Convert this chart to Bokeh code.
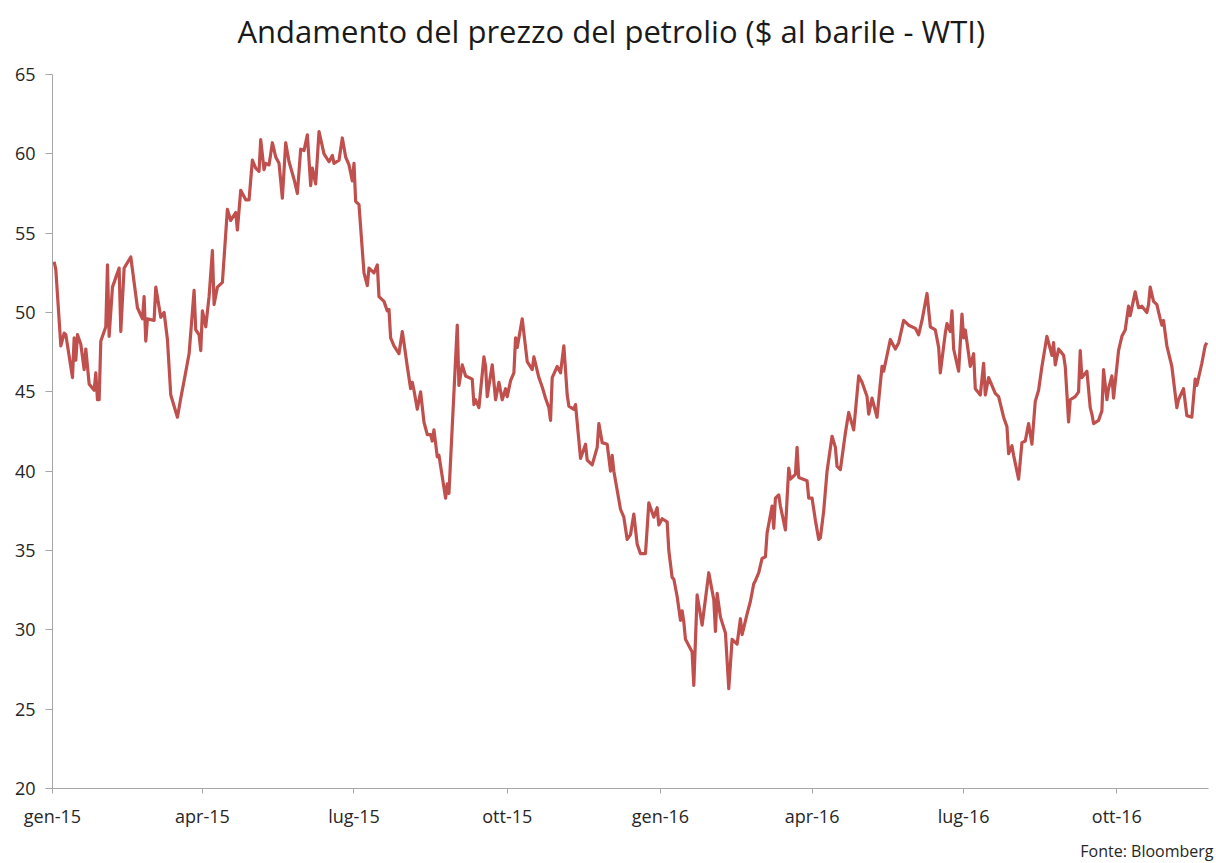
import pandas as pd
from bokeh.plotting import figure
from bokeh.models import Range1d, FixedTicker, CustomJSTickFormatter, Title, ColumnDataSource
from bokeh.embed import file_html
from bokeh.resources import INLINE

# --- data ---
inizio = "2015-01-01"
fine_asse = "2016-11-25"

giorni = [1, 2, 5, 7, 8, 12, 13, 14, 15, 17, 19, 20, 22, 25, 26, 27, 28, 29, 32, 33, 34, 36, 40, 41, 43, 47,
          51, 54, 55, 56, 57, 61, 62, 65, 67, 69, 71, 75, 77, 79, 82, 85, 86, 88, 89, 90, 92, 94, 96, 97, 99,
          102, 105, 107, 110, 111, 113, 116, 118, 120, 122, 124, 125, 127, 128, 130, 132, 134, 136, 138, 140,
          142, 145, 147, 149, 151, 153, 155, 156, 158, 160, 163, 166, 168, 169, 172, 174, 176, 178, 180, 181,
          182, 184, 187, 189, 190, 193, 195, 196, 199, 201, 202, 203, 205, 208, 210, 211, 213, 215, 216, 217,
          219, 221, 223, 225, 227, 228, 229, 231, 232, 236, 237, 238, 243, 244, 246, 248, 252, 253, 254, 256,
          259, 260, 261, 264, 266, 268, 270, 272, 273, 275, 277, 278, 279, 282, 285, 288, 289, 292, 294, 296,
          298, 299, 300, 303, 305, 307, 309, 310, 313, 314, 317, 320, 321, 324, 327, 328, 330, 333, 335, 336,
          337, 341, 343, 345, 347, 349, 351, 353, 356, 358, 361, 363, 364, 366, 369, 370, 372, 373, 375, 377,
          378, 379, 380, 384, 385, 387, 390, 394, 397, 398, 399, 401, 404, 406, 408, 411, 413, 414, 417, 419,
          421, 422, 424, 426, 428, 429, 432, 433, 434, 436, 437, 440, 442, 443, 446, 447, 448, 453, 454, 456,
          458, 460, 461, 463, 465, 468, 470, 471, 473, 476, 478, 481, 484, 486, 489, 490, 492, 495, 498, 499,
          500, 503, 506, 508, 511, 514, 518, 520, 522, 525, 527, 530, 532, 533, 536, 537, 539, 540, 541, 544,
          546, 547, 548, 551, 553, 554, 557, 559, 560, 562, 566, 568, 571, 573, 574, 576, 577, 580, 582, 584,
          586, 588, 590, 592, 594, 597, 600, 601, 602, 604, 607, 608, 610, 611, 614, 616, 617, 618, 621, 623,
          624, 625, 628, 630, 631, 633, 634, 636, 637, 640, 642, 644, 646, 647, 650, 652, 654, 657, 658, 659,
          661, 663, 665, 666, 667, 669, 672, 675, 676, 679, 681, 684, 686, 687, 690, 692, 693]

prezzo = [53.2, 52.7, 47.9, 48.7, 48.6, 45.9, 48.4, 47.0, 48.6, 48.0, 46.4, 47.7, 45.5, 45.1, 46.2, 44.5, 44.5,
          48.2, 49.1, 53.0, 48.5, 51.6, 52.8, 48.8, 52.8, 53.5,
          50.3, 49.6, 51.0, 48.2, 49.6, 49.5, 51.6, 49.7, 50.0, 48.3, 44.8, 43.4, 44.6, 45.7, 47.4, 51.4, 48.9,
          48.6, 47.6, 50.1, 49.1, 51.0, 53.9, 50.5, 51.6,
          51.9, 56.5, 55.8, 56.3, 55.2, 57.7, 57.1, 57.1, 59.6, 59.1, 58.9, 60.9, 59.0, 59.4, 59.3, 60.7, 59.8,
          59.4, 57.2, 60.7,
          59.5, 58.4, 57.5, 60.3, 60.2, 61.2, 58.0, 59.1, 58.1, 61.4, 60.0, 59.5, 59.9, 59.4, 59.6, 61.0, 59.8,
          59.3, 58.3, 59.4,
          57.0, 56.8, 52.5, 51.7, 52.8, 52.5, 53.0, 51.0, 50.7, 50.1, 50.2, 48.4, 47.9, 47.4, 48.8, 48.1, 46.6,
          45.2, 45.6, 45.1,
          43.9, 45.0, 43.1, 42.3, 42.3, 41.9, 42.6, 40.9, 41.0, 38.3, 39.2, 38.6, 49.2, 45.4, 46.7, 46.0, 45.8,
          44.2, 44.5, 44.0,
          47.2, 46.6, 44.7, 46.7, 44.5, 45.6, 44.5, 45.2, 44.7, 45.7, 46.2, 48.4, 47.8, 49.6, 46.9, 46.4, 47.2,
          45.9, 45.3, 44.6,
          44.0, 43.2, 45.9, 46.6, 46.2, 47.9, 44.8, 44.1, 43.9, 44.2, 40.8, 41.7, 40.7, 40.4, 41.5, 43.0, 41.8,
          41.7, 40.0, 41.0,
          40.0, 37.6, 37.1, 35.7, 36.0, 37.3, 35.4, 34.8, 34.8, 38.0, 37.1, 37.7, 36.6, 37.0, 36.8, 35.0, 33.3,
          33.2, 32.1, 30.6,
          31.2, 30.5, 29.4, 28.6, 26.5, 32.2, 30.3, 33.6, 31.9, 29.9, 32.3, 30.8, 29.8, 26.3, 29.4, 29.1, 30.7,
          29.7, 31.0, 31.8,
          32.9, 33.1, 33.6, 34.5, 34.6, 36.1, 37.8, 36.4, 38.3, 38.5, 37.8, 36.3, 40.2, 39.5, 39.8, 41.5, 39.6,
          39.4, 38.3, 38.3,
          36.9, 35.7, 35.8, 37.5, 40.0, 42.2, 41.5, 40.3, 40.1, 42.4, 43.7, 42.6, 46.0, 45.6, 44.7, 43.6, 44.6,
          43.4, 46.6, 46.3,
          46.8, 48.3, 47.7, 48.1, 49.5, 49.2, 49.0, 48.6, 49.5, 51.2, 49.1, 48.9, 47.8, 46.2, 48.7, 49.3, 48.8,
          50.1, 47.7, 46.3,
          49.9, 48.4, 48.9, 46.6, 47.4, 45.2, 44.8, 46.8, 44.8, 45.9, 44.9, 44.7, 43.4, 42.8, 41.1, 41.6, 41.0,
          39.5, 41.8, 41.9,
          43.0, 41.7, 44.4, 45.1, 46.6, 48.5, 47.3, 48.1, 46.7, 47.7, 47.3, 46.6, 43.1, 44.5, 44.7, 45.0, 47.6,
          45.9, 46.3, 44.0,
          43.6, 43.0, 43.2, 43.8, 46.4, 44.5, 45.2, 46.0, 44.6, 47.6, 48.5, 48.9, 50.4, 49.8, 51.3, 50.3, 50.4,
          50.0, 50.5, 51.6,
          50.7, 50.5, 49.6, 49.2, 49.5, 47.9, 46.6, 44.0, 44.5, 45.2, 43.5, 43.4, 45.8, 45.4, 46.8, 47.9, 48.1]

etichette_x = ["gen-15", "apr-15", "lug-15", "ott-15", "gen-16", "apr-16", "lug-16", "ott-16"]
date_tick = ["2015-01-01", "2015-04-01", "2015-07-01", "2015-10-01",
             "2016-01-01", "2016-04-01", "2016-07-01", "2016-10-01"]
tick_y = [20, 25, 30, 35, 40, 45, 50, 55, 60, 65]

titolo = "Andamento del prezzo del petrolio ($ al barile - WTI)"
fonte = "Fonte: Bloomberg"

# --- build ---
date = pd.Timestamp(inizio) + pd.to_timedelta(giorni, unit="D")
src = ColumnDataSource(data=dict(x=date, y=prezzo))
tick_ms = [pd.Timestamp(d).value / 1e6 for d in date_tick]

FONT = "Open Sans"
TXT = "#262626"
AXC = "#A6A6A6"

p = figure(x_axis_type="datetime", output_backend="svg", toolbar_location=None,
           frame_width=1156, frame_height=714,
           min_border_left=52, min_border_right=8, min_border_top=74, min_border_bottom=40,
           x_range=Range1d(pd.Timestamp(inizio), pd.Timestamp(fine_asse)),
           y_range=Range1d(min(tick_y), max(tick_y)))

p.line("x", "y", source=src, line_color="#C0504D", line_width=3.2, line_join="round")

p.title.text = ""
p.title.standoff = 0
p.title.visible = False

# spacer between frame and title, then the title itself (stacked outward from the frame)
p.add_layout(Title(text=" ", text_font_size="1px", standoff=15), "above")
p.add_layout(Title(text=titolo, align="left", offset=185, standoff=10, text_font=FONT,
                   text_font_size="31px", text_font_style="normal", text_color="#1a1a1a"), "above")

p.add_layout(Title(text=fonte, align="right", offset=-5, text_font=FONT, text_font_size="16px",
                   text_font_style="normal", text_color=TXT, standoff=14), "below")

p.xaxis.ticker = FixedTicker(ticks=tick_ms)
p.xaxis.formatter = CustomJSTickFormatter(args=dict(t=tick_ms, l=etichette_x), code="""
let best = 0, bd = Infinity;
for (let i = 0; i < t.length; i++) { const d = Math.abs(t[i] - tick); if (d < bd) { bd = d; best = i; } }
return l[best];
""")
p.yaxis.ticker = FixedTicker(ticks=tick_y)

for ax in (p.xaxis[0], p.yaxis[0]):
    ax.axis_line_color = AXC
    ax.major_tick_line_color = AXC
    ax.minor_tick_line_color = None
    ax.major_tick_in = 0
    ax.major_label_text_font = FONT
    ax.major_label_text_font_size = "18px"
    ax.major_label_text_color = TXT
p.xaxis.major_tick_out = 5
p.yaxis.major_tick_out = 7
p.xaxis.major_label_standoff = 10
p.yaxis.major_label_standoff = 10

p.xgrid.grid_line_color = None
p.ygrid.grid_line_color = None
p.outline_line_color = None
p.background_fill_color = "white"
p.border_fill_color = "white"

open("out.html", "w").write(file_html(p, INLINE))
